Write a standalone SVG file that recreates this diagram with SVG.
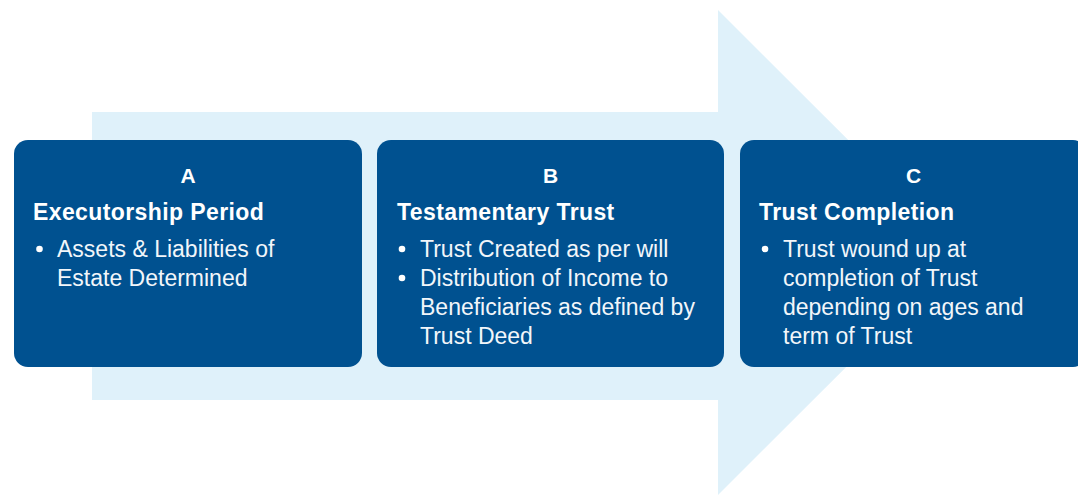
<svg xmlns="http://www.w3.org/2000/svg" width="1078" height="495" viewBox="0 0 1078 495">
<style>
.box{fill:#005190;}
.letter{font-family:"Liberation Sans",Arial,sans-serif;font-weight:bold;font-size:21px;fill:#fff;text-anchor:middle;}
.head{font-family:"Liberation Sans",Arial,sans-serif;font-weight:bold;font-size:23px;letter-spacing:0.4px;fill:#fff;}
.body{font-family:"Liberation Sans",Arial,sans-serif;font-size:23px;fill:#f2f6fa;}
.dot{fill:#fff;}
</style>
<rect width="1078" height="495" fill="#fff"/>
<g id="arrow">
<polygon points="92,112 718,112 718,10 961,252.5 718,495 718,400 92,400" fill="#DFF1FA"/>
</g>
<g id="connectors"></g>
<g id="nodeA">
<rect class="box" x="14" y="140" width="348" height="227" rx="14"/>
<text class="letter" x="188" y="183">A</text>
<text class="head" x="33" y="220">Executorship Period</text>
<circle class="dot" cx="39.5" cy="249" r="3.3"/>
<text class="body" x="57" y="257">Assets &amp; Liabilities of</text>
<text class="body" x="57" y="286">Estate Determined</text>
</g>
<g id="nodeB">
<rect class="box" x="377" y="140" width="347" height="227" rx="14"/>
<text class="letter" x="550.5" y="183">B</text>
<text class="head" x="397" y="220">Testamentary Trust</text>
<circle class="dot" cx="402" cy="249" r="3.3"/>
<text class="body" x="420" y="257">Trust Created as per will</text>
<circle class="dot" cx="402" cy="278" r="3.3"/>
<text class="body" x="420" y="286">Distribution of Income to</text>
<text class="body" x="420" y="315">Beneficiaries as defined by</text>
<text class="body" x="420" y="344">Trust Deed</text>
</g>
<g id="nodeC">
<rect class="box" x="740" y="140" width="347" height="227" rx="14"/>
<text class="letter" x="913.5" y="183">C</text>
<text class="head" x="759" y="220">Trust Completion</text>
<circle class="dot" cx="765" cy="249" r="3.3"/>
<text class="body" x="783" y="257">Trust wound up at</text>
<text class="body" x="783" y="286">completion of Trust</text>
<text class="body" x="783" y="315">depending on ages and</text>
<text class="body" x="783" y="344">term of Trust</text>
</g>
</svg>
